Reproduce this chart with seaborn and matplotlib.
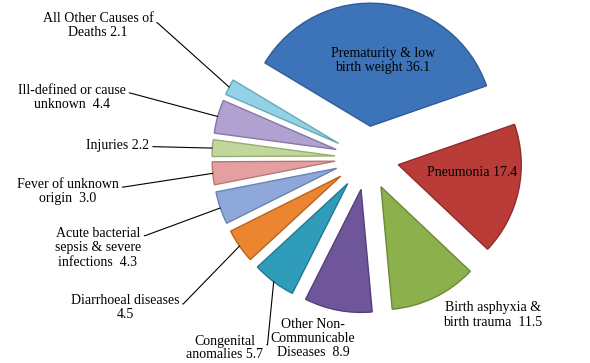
import numpy as np
import seaborn as sns
import matplotlib.pyplot as plt

causes = ['Prematurity & low\nbirth weight 36.1', 'Pneumonia 17.4',
          'Birth asphyxia &\nbirth trauma  11.5', 'Other Non-\nCommunicable\nDiseases  8.9',
          'Congenital\nanomalies 5.7', 'Diarrhoeal diseases\n4.5',
          'Acute bacterial\nsepsis & severe\ninfections  4.3', 'Fever of unknown\norigin  3.0',
          'Injuries 2.2', 'Ill-defined or cause\nunknown  4.4', 'All Other Causes of\nDeaths 2.1']
shares = [36.1, 17.4, 11.5, 8.9, 5.7, 4.5, 4.3, 3.0, 2.2, 4.4, 2.1]
fills = ['#3d74b9', '#b93c39', '#8cb04c', '#6f569b', '#2f9cb9', '#ec852f',
         '#8ea9d9', '#e4a0a0', '#c1d79c', '#b1a1d1', '#93d2e4']
edges = ['#2e5c95', '#8f2c2a', '#6c8a36', '#53407a', '#227890', '#b8641f',
         '#6783b5', '#b87777', '#97ad73', '#8777a8', '#68a8bb']

# label layout (pixels in a 590x363 canvas), leader flag and where the leader leaves the text
label_px = [(383, 60), (472, 173), (493, 315), (313, 338), (225, 348), (125, 308),
            (98, 248), (68, 192), (118, 146), (72, 97), (98, 26)]
has_leader = [False, False, False, False, True, True, True, True, True, True, True]
leader_rel = [0, 0, 0, 0, 0.62, 0.65, 0.8, 0.68, 0.45, 0.65, 0.62]

sns.set_theme(style="white")
plt.rcParams['font.family'] = ['Liberation Serif', 'DejaVu Serif']

W, H = 590, 363
fig = plt.figure(figsize=(W / 100, H / 100), dpi=100)
ax = fig.add_axes([0, 0, 1, 1])
cx, cy, rad = 367, 158, 123

palette = sns.color_palette(fills)
wedges, _ = ax.pie(shares, colors=palette, startangle=149, counterclock=False,
                   explode=[0.26] * len(shares), radius=1.0,
                   wedgeprops=dict(linewidth=1.0))
for w, ec in zip(wedges, edges):
    w.set_edgecolor(ec)

# pie() resets the limits, so set them afterwards
ax.set_xlim(-cx / rad, (W - cx) / rad)
ax.set_ylim(-(H - cy) / rad, cy / rad)
ax.set_aspect('equal')
ax.axis('off')


def px_to_data(p):
    return ((p[0] - cx) / rad, (cy - p[1]) / rad)


for w, txt, pos, lead, rel in zip(wedges, causes, label_px, has_leader, leader_rel):
    if lead:
        mid = np.deg2rad((w.theta1 + w.theta2) / 2)
        tip = (w.center[0] + w.r * np.cos(mid), w.center[1] + w.r * np.sin(mid))
        ax.annotate(txt, xy=tip, xytext=px_to_data(pos), ha='center', va='center',
                    fontsize=10, linespacing=1.1, color='black',
                    arrowprops=dict(arrowstyle='-', color='black', lw=0.8,
                                    relpos=(1.0, rel), shrinkA=0, shrinkB=0,
                                    connectionstyle='arc,angleA=0,armA=4'))
    else:
        ax.text(*px_to_data(pos), txt, ha='center', va='center', fontsize=10,
                linespacing=1.1, color='black')

plt.savefig('out.png', dpi=100)
plt.close('all')
